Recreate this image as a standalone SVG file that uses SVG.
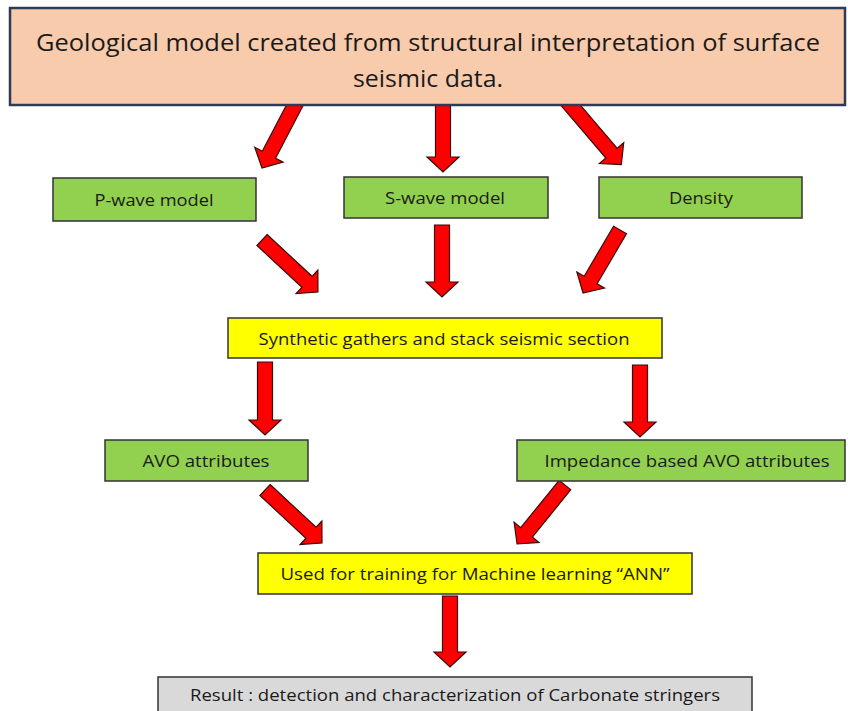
<svg xmlns="http://www.w3.org/2000/svg" width="848" height="711" viewBox="0 0 848 711">
<style>
text{font-family:"Open Sans","Liberation Sans",sans-serif;fill:#1a1a1a;text-anchor:middle;dominant-baseline:central}
.t{font-size:16.5px}
.big{font-size:23px}
.box{stroke:#333;stroke-width:1.5}
.g{fill:#92d050}
.y{fill:#ffff00}
.gr{fill:#d9d9d9}
.arr{fill:#ff0000;stroke:#3a0a0a;stroke-width:1.2;stroke-linejoin:miter}
</style>
<rect width="848" height="711" fill="#ffffff"/>
<g id="connectors">
<path class="arr" transform="translate(297,101) rotate(117.6)" d="M0,-7.5 L60.6,-7.5 L60.6,-16 L75.6,0 L60.6,16 L60.6,7.5 L0,7.5 Z"/>
<path class="arr" transform="translate(443,101) rotate(90)" d="M0,-7.5 L56,-7.5 L56,-16 L71,0 L56,16 L56,7.5 L0,7.5 Z"/>
<path class="arr" transform="translate(567,101) rotate(49.5)" d="M0,-7.5 L68.6,-7.5 L68.6,-16 L83.6,0 L68.6,16 L68.6,7.5 L0,7.5 Z"/>
<path class="arr" transform="translate(262,240) rotate(42.9)" d="M0,-7.5 L61.4,-7.5 L61.4,-16 L76.4,0 L61.4,16 L61.4,7.5 L0,7.5 Z"/>
<path class="arr" transform="translate(442,225) rotate(90)" d="M0,-7.5 L57,-7.5 L57,-16 L72,0 L57,16 L57,7.5 L0,7.5 Z"/>
<path class="arr" transform="translate(620,230) rotate(120.4)" d="M0,-7.5 L58,-7.5 L58,-16 L73,0 L58,16 L58,7.5 L0,7.5 Z"/>
<path class="arr" transform="translate(265,362) rotate(90)" d="M0,-7.5 L58,-7.5 L58,-16 L73,0 L58,16 L58,7.5 L0,7.5 Z"/>
<path class="arr" transform="translate(640,365) rotate(90)" d="M0,-7.5 L57,-7.5 L57,-16 L72,0 L57,16 L57,7.5 L0,7.5 Z"/>
<path class="arr" transform="translate(265,490) rotate(42.9)" d="M0,-7.5 L62.8,-7.5 L62.8,-16 L77.8,0 L62.8,16 L62.8,7.5 L0,7.5 Z"/>
<path class="arr" transform="translate(565,485) rotate(129.1)" d="M0,-7.5 L61,-7.5 L61,-16 L76,0 L61,16 L61,7.5 L0,7.5 Z"/>
<path class="arr" transform="translate(450,596) rotate(90)" d="M0,-7.5 L56,-7.5 L56,-16 L71,0 L56,16 L56,7.5 L0,7.5 Z"/>
</g>
<g id="geomodel">
<rect x="10" y="8" width="835" height="97" fill="#f8cbad" stroke="#2e3b55" stroke-width="2.5"/>
<text class="big" x="428" y="42" textLength="784" lengthAdjust="spacingAndGlyphs">Geological model created from structural interpretation of surface</text>
<text class="big" x="428" y="78" textLength="150" lengthAdjust="spacingAndGlyphs">seismic data.</text>
</g>
<g id="pwave">
<rect class="box g" x="53" y="178" width="203" height="43"/>
<text class="t" x="154" y="199" textLength="119" lengthAdjust="spacingAndGlyphs">P-wave model</text>
</g>
<g id="swave">
<rect class="box g" x="344" y="177" width="204" height="41"/>
<text class="t" x="445" y="197" textLength="120" lengthAdjust="spacingAndGlyphs">S-wave model</text>
</g>
<g id="density">
<rect class="box g" x="599" y="177" width="203" height="41"/>
<text class="t" x="701" y="197" textLength="64" lengthAdjust="spacingAndGlyphs">Density</text>
</g>
<g id="synthetic">
<rect class="box y" x="228" y="318" width="434" height="40"/>
<text class="t" x="444" y="338" textLength="371" lengthAdjust="spacingAndGlyphs">Synthetic gathers and stack seismic section</text>
</g>
<g id="avo">
<rect class="box g" x="105" y="440" width="203" height="41"/>
<text class="t" x="206" y="460" textLength="127" lengthAdjust="spacingAndGlyphs">AVO attributes</text>
</g>
<g id="impedance">
<rect class="box g" x="517" y="440" width="328" height="41"/>
<text class="t" x="687" y="460" textLength="285" lengthAdjust="spacingAndGlyphs">Impedance based AVO attributes</text>
</g>
<g id="training">
<rect class="box y" x="258" y="553" width="434" height="41"/>
<text class="t" x="475" y="573" textLength="389" lengthAdjust="spacingAndGlyphs">Used for training for Machine learning “ANN”</text>
</g>
<g id="result">
<rect class="box gr" x="158" y="677" width="594" height="40"/>
<text class="t" x="455" y="694" textLength="530" lengthAdjust="spacingAndGlyphs">Result : detection and characterization of Carbonate stringers</text>
</g>
</svg>
